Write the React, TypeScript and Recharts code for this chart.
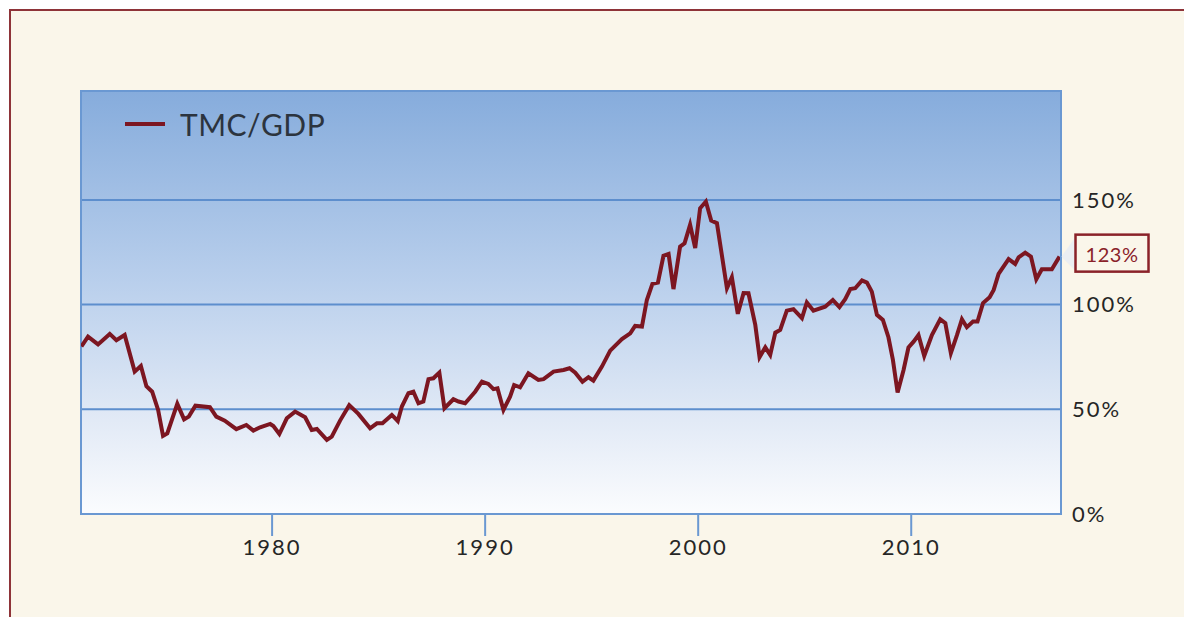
import {
  CartesianGrid,
  Legend,
  Line,
  LineChart,
  ReferenceArea,
  XAxis,
  YAxis,
} from 'recharts';

// quarter-ish readings of total market cap / GDP
const years = [
  1971.05, 1971.36, 1971.83, 1972.38, 1972.69, 1973.08, 1973.55, 1973.84, 1974.1, 1974.37,
  1974.65, 1974.88, 1975.08, 1975.55, 1975.87, 1976.09, 1976.4, 1977.08, 1977.38, 1977.78,
  1978.32, 1978.79, 1979.12, 1979.44, 1979.91, 1980.06, 1980.34, 1980.69, 1981.08, 1981.55,
  1981.86, 1982.1, 1982.57, 1982.8, 1983.19, 1983.62, 1984.05, 1984.6, 1984.92, 1985.18,
  1985.62, 1985.9, 1986.09, 1986.4, 1986.63, 1986.87, 1987.1, 1987.34, 1987.57, 1987.85,
  1988.09, 1988.51, 1988.75, 1989.06, 1989.53, 1989.85, 1990.15, 1990.39, 1990.58, 1990.86,
  1991.17, 1991.36, 1991.64, 1992.03, 1992.5, 1992.74, 1993.21, 1993.68, 1993.96, 1994.23,
  1994.57, 1994.85, 1995.08, 1995.48, 1995.87, 1996.42, 1996.81, 1997.04, 1997.36, 1997.59,
  1997.85, 1998.11, 1998.37, 1998.61, 1998.84, 1999.15, 1999.36, 1999.62, 1999.86, 2000.09,
  2000.36, 2000.61, 2000.88, 2001.35, 2001.58, 2001.86, 2002.13, 2002.36, 2002.68, 2002.88,
  2003.15, 2003.38, 2003.62, 2003.85, 2004.16, 2004.47, 2004.87, 2005.1, 2005.41, 2005.96,
  2006.32, 2006.63, 2006.9, 2007.14, 2007.37, 2007.69, 2007.92, 2008.15, 2008.39, 2008.67,
  2008.93, 2009.14, 2009.36, 2009.64, 2009.87, 2010.11, 2010.34, 2010.61, 2010.97, 2011.36,
  2011.6, 2011.86, 2012.15, 2012.38, 2012.61, 2012.9, 2013.11, 2013.37, 2013.68, 2013.87,
  2014.1, 2014.57, 2014.88, 2015.04, 2015.35, 2015.62, 2015.87, 2016.13, 2016.6, 2016.96,
];

const ratios = [
  80, 84.7, 81, 86, 83, 85.5, 68, 70.7, 61, 58.4,
  49.7, 37.3, 38.5, 52.6, 45.2, 46.5, 51.7, 51, 46.5, 44.6,
  40.5, 42.5, 39.8, 41.4, 43, 42, 38.2, 45.7, 48.9, 46.2,
  40.1, 40.6, 35.4, 36.9, 44.6, 52, 47.8, 40.9, 43.3, 43.3,
  47.3, 44.4, 51.3, 57.7, 58.4, 52.9, 53.7, 64.4, 64.8, 67.5,
  50.5, 54.8, 53.7, 52.9, 58.4, 63.2, 62.1, 59.6, 60, 49.7,
  56, 61.6, 60.5, 67.2, 64, 64.4, 68, 68.8, 69.6, 67.5,
  63.2, 65.3, 63.7, 70.4, 78, 83.5, 86.3, 89.8, 89.5, 102.2,
  109.9, 110.5, 123.3, 124.2, 107.4, 127.7, 129.3, 138.1, 127, 146,
  149.2, 140.1, 138.9, 107.8, 113.1, 95.6, 105.5, 105.4, 90.3, 74.9,
  79.6, 76, 86.6, 87.9, 97.1, 97.8, 93.5, 101, 97.1, 99,
  102.2, 98.8, 102.6, 107.4, 107.8, 111.5, 110.5, 106.2, 95.1, 92.7,
  84.4, 73.6, 58, 68.8, 79.5, 82.3, 85.5, 75.5, 85.5, 93,
  91.1, 76.8, 85.5, 93, 89.2, 91.9, 91.9, 100.7, 103.5, 107,
  114.7, 121.7, 119.4, 122.6, 124.8, 122.9, 112.1, 116.9, 116.9, 122.9,
];

const yearTicks = [1980, 1990, 2000, 2010];
const pctTicks = [0, 50, 100, 150];
const seriesName = 'TMC/GDP';

const data = years.map((year, i) => ({ year, ratio: ratios[i] }));

const RED = '#7c1621';
const BLUE = '#6a98d2';
const CREAM = '#faf6ea';

function EndLabel(props: any) {
  const { x, y, index, value } = props;
  if (index !== data.length - 1) return null;
  return (
    <g>
      <polygon
        points={`${x + 2},${y} ${x + 16},${y - 20} ${x + 16},${y + 14}`}
        fill="#e9edf3"
        opacity={0.9}
      />
      <rect x={x + 16} y={y - 22} width={73} height={37} fill={CREAM} stroke="#8a2229" strokeWidth={2.5} />
      <text
        x={x + 52.5}
        y={y - 3}
        textAnchor="middle"
        dominantBaseline="central"
        fontFamily="Lato"
        fontSize={20}
        letterSpacing={0.5}
        fill="#8a2229"
      >
        {`${Math.round(value)}%`}
      </text>
    </g>
  );
}

function LegendBox() {
  return (
    <div style={{ display: 'flex', alignItems: 'center', fontFamily: 'Lato', color: '#2c343e' }}>
      <span style={{ display: 'inline-block', width: 40, height: 4, background: RED, marginRight: 15 }} />
      <span style={{ fontSize: 30, lineHeight: '30px', letterSpacing: 0.5 }}>{seriesName}</span>
    </div>
  );
}

const tickStyle = { fontFamily: 'Lato', fontSize: 22, fill: '#262626', letterSpacing: 2 };

export default function App() {
  return (
    <div style={{ position: 'relative', width: 1184, height: 617, overflow: 'hidden' }}>
      <style>{'body { margin: 0 !important; overflow: hidden; }'}</style>
      <div
        style={{
          position: 'absolute',
          left: 9,
          top: 9,
          width: 1220,
          height: 660,
          border: '2px solid #8e3338',
          background: CREAM,
        }}
      />
      <div style={{ position: 'absolute', left: 8, top: 8 }}>
        <LineChart width={1176} height={601} data={data} margin={{ top: 83, right: 43, bottom: 45, left: 73 }}>
          <defs>
            <linearGradient id="plotBg" x1="0" y1="0" x2="0" y2="1">
              <stop offset="0%" stopColor="#86acdc" />
              <stop offset="45%" stopColor="#b9cfec" />
              <stop offset="78%" stopColor="#e2eaf6" />
              <stop offset="100%" stopColor="#fbfcfe" />
            </linearGradient>
          </defs>
          <CartesianGrid
            vertical={false}
            stroke="#5d8ecd"
            strokeWidth={2}
            fill="url(#plotBg)"
            fillOpacity={1}
          />
          <XAxis
            type="number"
            dataKey="year"
            domain={[1971.03, 2017.03]}
            ticks={yearTicks}
            allowDataOverflow
            height={50}
            tickSize={22}
            tickMargin={3}
            axisLine={{ stroke: BLUE, strokeWidth: 2 }}
            tickLine={{ stroke: BLUE, strokeWidth: 2 }}
            tick={tickStyle}
          />
          <YAxis
            orientation="right"
            domain={[0, 202]}
            ticks={pctTicks}
            allowDataOverflow
            width={80}
            tickSize={0}
            tickMargin={11}
            axisLine={{ stroke: BLUE, strokeWidth: 2 }}
            tickFormatter={(v) => `${v}%`}
            tick={{ ...tickStyle, textAnchor: 'start' }}
          />
          <ReferenceArea
            x1={1971.03}
            x2={2017.03}
            y1={0}
            y2={202}
            fill="none"
            stroke={BLUE}
            strokeWidth={2}
          />
          <Legend
            layout="horizontal"
            verticalAlign="middle"
            align="center"
            content={() => <LegendBox />}
            wrapperStyle={{ left: 117, top: 101, width: 'auto' }}
          />
          <Line
            type="linear"
            dataKey="ratio"
            name={seriesName}
            stroke={RED}
            strokeWidth={4}
            dot={false}
            activeDot={false}
            isAnimationActive={false}
            label={EndLabel}
          />
        </LineChart>
      </div>
    </div>
  );
}
